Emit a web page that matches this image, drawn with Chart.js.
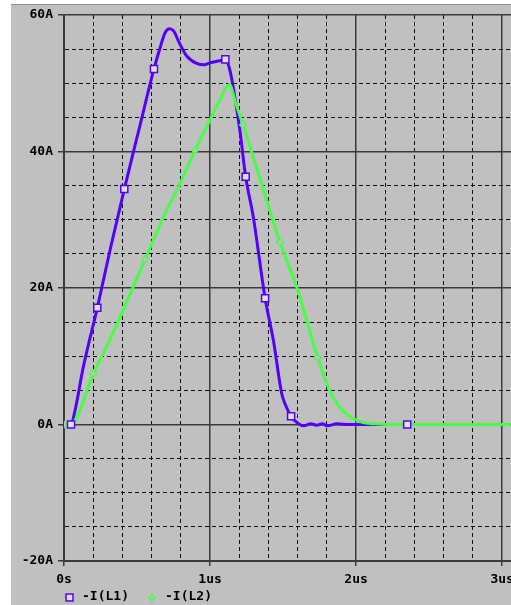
<!DOCTYPE html>
<html>
<head>
<meta charset="utf-8">
<script src="https://cdn.jsdelivr.net/npm/chart.js@4.4.1/dist/chart.umd.min.js"></script>
<style>
    html, body { margin: 0; padding: 0; background: #fff; overflow: hidden; }
    #panel {
        position: absolute; left: 11px; top: 4px; width: 500px; height: 600px;
        background: #c0c0c0; border-top: 1px solid #8e8e8e;
    }
    #grafico { position: absolute; left: 0; top: 0; }
</style>
</head>
<body>
<div id="panel"></div>
<!-- el lienzo sobresale un poco a la derecha: la ultima etiqueta "3us" queda cortada en el borde -->
<canvas id="grafico" width="520" height="605"></canvas>
<script>
// Corriente -I(L1) (us, A)
const tiempoL1 = [0, 0.048, 0.075, 0.132, 0.228, 0.32, 0.413, 0.52, 0.616, 0.658, 0.692, 0.722, 0.749, 0.795, 0.84, 0.909, 0.96, 1.0, 1.068, 1.105,
    1.137, 1.171, 1.205, 1.244, 1.297, 1.377, 1.434, 1.491, 1.514, 1.555, 1.6, 1.64, 1.69, 1.73, 1.77, 1.8, 1.87, 1.95, 2.1, 2.35, 3.06];
const corrienteL1 = [0, 0, 2.0, 8.4, 17.1, 26.0, 34.5, 43.8, 52.1, 55.2, 57.4, 58.0, 57.7, 55.7, 54.0, 52.9, 52.7, 53.0, 53.3, 53.5,
    51.8, 47.8, 43.0, 36.3, 30.3, 18.5, 12.3, 4.5, 3.0, 1.2, 0.2, -0.2, 0.1, -0.1, 0.1, -0.2, 0.1, 0, 0, 0, 0];
// marcadores de L1
const marcasTiempoL1 = [0.048, 0.228, 0.413, 0.616, 1.105, 1.244, 1.377, 1.555, 2.35];
const marcasCorrienteL1 = [0, 17.1, 34.5, 52.1, 53.5, 36.3, 18.5, 1.2, 0];

// Corriente -I(L2)
const tiempoL2 = [0, 0.045, 0.2, 0.361, 0.555, 0.703, 0.795, 0.897, 1.0, 1.068, 1.132, 1.18, 1.226, 1.297, 1.4, 1.479, 1.594, 1.737,
    1.822, 1.89, 1.98, 2.05, 2.15, 2.3, 3.06];
const corrienteL2 = [0, 0, 7.4, 14.6, 24.2, 31.4, 35.3, 40.2, 44.6, 47.6, 49.8, 46.8, 43.9, 39.1, 32.0, 26.7, 20.1, 9.8,
    4.8, 2.5, 0.83, 0.3, 0.08, 0, 0];
const marcasTiempoL2 = [0, 0.2, 0.555, 0.897, 1.226, 1.479, 1.737];
const marcasCorrienteL2 = [0, 7.4, 24.2, 40.2, 43.9, 26.7, 9.8];

const etiquetasX = ['0s', '1us', '2us', '3us'];
const etiquetasY = ['-20A', '0A', '20A', '40A', '60A'];
const nombresSeries = ['-I(L1)', '-I(L2)'];

const AZUL = '#5500ff';
const VERDE = '#44ff44';
const FUENTE = { family: 'DejaVu Sans Mono', size: 13, weight: 'bold' };

const puntos = (xs, ys) => xs.map((x, i) => ({ x: x, y: ys[i] }));
const esMayorX = v => Math.abs(v - Math.round(v)) < 1e-6;
const esMayorY = v => Math.abs(v % 20) < 1e-6;

// Leyenda propia abajo a la izquierda
const leyendaAbajo = {
    id: 'leyendaAbajo',
    afterDraw(chart) {
        const ctx = chart.ctx;
        ctx.save();
        ctx.font = 'bold 13px "DejaVu Sans Mono"';
        ctx.textBaseline = 'middle';
        // cuadrado L1
        ctx.strokeStyle = AZUL;
        ctx.lineWidth = 1.5;
        ctx.fillStyle = '#e0e0e0';
        ctx.fillRect(66, 594, 7, 7);
        ctx.strokeRect(66, 594, 7, 7);
        ctx.fillStyle = '#000';
        ctx.fillText(nombresSeries[0], 82, 597);
        // rombo L2
        ctx.strokeStyle = VERDE;
        ctx.beginPath();
        ctx.moveTo(152, 594); ctx.lineTo(155, 597.5); ctx.lineTo(152, 601); ctx.lineTo(149, 597.5); ctx.closePath();
        ctx.stroke();
        ctx.fillText(nombresSeries[1], 165, 597);
        ctx.restore();
    }
};

new Chart(document.getElementById('grafico'), {
    type: 'line',
    data: {
        datasets: [
            {
                label: nombresSeries[0] + ' marcas', data: puntos(marcasTiempoL1, marcasCorrienteL1),
                showLine: false, pointStyle: 'rect', pointRadius: 5, borderColor: AZUL, backgroundColor: '#e0e0e0',
                pointBorderWidth: 1.5, order: 1
            },
            {
                label: nombresSeries[1] + ' marcas', data: puntos(marcasTiempoL2, marcasCorrienteL2),
                showLine: false, pointStyle: 'rectRot', pointRadius: 3.5, borderColor: VERDE, backgroundColor: '#c0c0c0',
                pointBorderWidth: 1.2, order: 2
            },
            {
                label: nombresSeries[1], data: puntos(tiempoL2, corrienteL2),
                borderColor: VERDE, borderWidth: 3, pointRadius: 0, cubicInterpolationMode: 'monotone', order: 3
            },
            {
                label: nombresSeries[0], data: puntos(tiempoL1, corrienteL1),
                borderColor: AZUL, borderWidth: 3, pointRadius: 0, cubicInterpolationMode: 'monotone', order: 4
            }
        ]
    },
    options: {
        responsive: false,
        animation: false,
        devicePixelRatio: 1,
        layout: { padding: { top: 15, right: 0, bottom: 0, left: 0 } },
        plugins: { legend: { display: false }, tooltip: { enabled: false } },
        scales: {
            x: {
                type: 'linear', min: 0, max: 3.0616,
                afterBuildTicks: s => { s.ticks = Array.from({ length: 16 }, (_, i) => ({ value: i / 5 })); },
                afterFit: s => { s.height = 44; },
                ticks: {
                    autoSkip: false, maxRotation: 0, padding: 6, color: '#000', font: FUENTE,
                    callback: v => esMayorX(v) ? etiquetasX[Math.round(v)] : ''
                },
                grid: {
                    color: c => esMayorX(c.tick.value) ? '#3a3a3a' : '#111',
                    lineWidth: c => esMayorX(c.tick.value) ? 1.5 : 1,
                    tickColor: c => esMayorX(c.tick.value) ? '#3a3a3a' : 'rgba(0,0,0,0)',
                    tickLength: 5
                },
                border: {
                    color: '#3a3a3a', width: 2,
                    dash: c => (c.tick && !esMayorX(c.tick.value)) ? [4, 3] : []
                }
            },
            y: {
                min: -20, max: 60,
                afterBuildTicks: s => { s.ticks = Array.from({ length: 17 }, (_, i) => ({ value: -20 + i * 5 })); },
                afterFit: s => { s.width = 64; s.paddingTop = 0; s.paddingBottom = 0; },
                ticks: {
                    autoSkip: false, padding: 5, color: '#000', font: FUENTE,
                    callback: v => esMayorY(v) ? etiquetasY[Math.round((v + 20) / 20)] : ''
                },
                grid: {
                    color: c => esMayorY(c.tick.value) ? '#3a3a3a' : '#111',
                    lineWidth: c => esMayorY(c.tick.value) ? 1.5 : 1,
                    tickColor: c => esMayorY(c.tick.value) ? '#3a3a3a' : 'rgba(0,0,0,0)',
                    tickLength: 6
                },
                border: {
                    color: '#3a3a3a', width: 2,
                    dash: c => (c.tick && !esMayorY(c.tick.value)) ? [4, 3] : []
                }
            }
        }
    },
    plugins: [leyendaAbajo]
});
</script>
</body>
</html>
